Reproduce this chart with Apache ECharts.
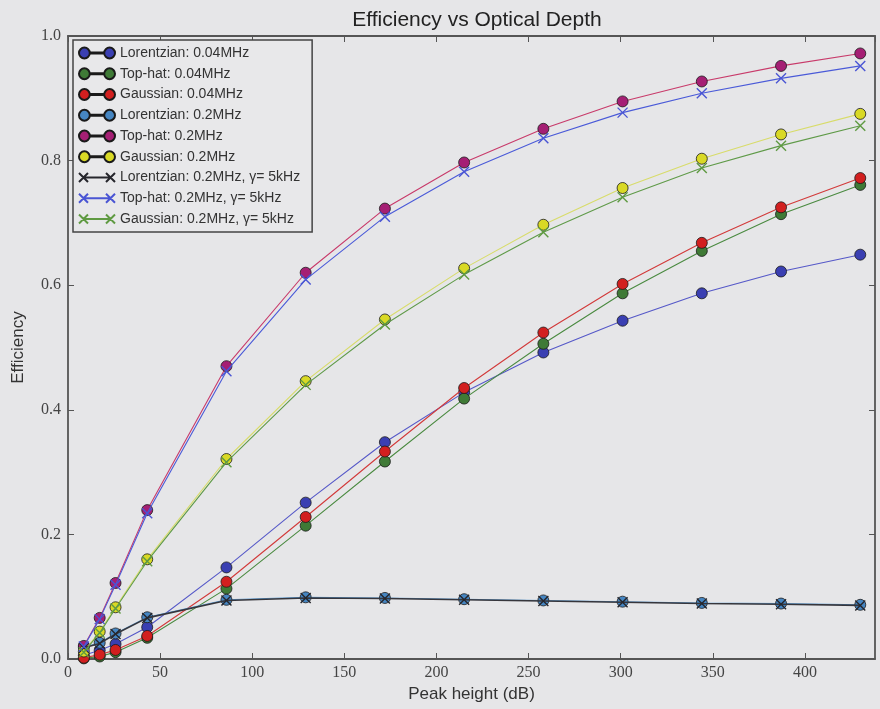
<!DOCTYPE html>
<html>
<head>
<meta charset="utf-8">
<script src="https://cdn.jsdelivr.net/npm/echarts@6/dist/echarts.min.js"></script>
<style>
  html, body { margin: 0; padding: 0; background: #e6e6e8; }
  #chart { width: 880px; height: 709px; }
</style>
</head>
<body>
<div id="chart"></div>
<script>
// Peak heights (dB) at which efficiency was computed
const peakHeights = [8.6, 17.2, 25.8, 43, 86, 129, 172, 215, 258, 301, 344, 387, 430];

// Efficiency for each lineshape / width
const lorentzian004 = [0.006, 0.014, 0.024, 0.051, 0.147, 0.251, 0.348, 0.428, 0.492, 0.543, 0.587, 0.622, 0.649];
const tophat004     = [0.001, 0.004, 0.011, 0.034, 0.113, 0.214, 0.317, 0.418, 0.506, 0.587, 0.655, 0.714, 0.761];
const gaussian004   = [0.002, 0.007, 0.0145, 0.037, 0.124, 0.228, 0.333, 0.435, 0.524, 0.602, 0.668, 0.725, 0.772];
const lorentzian02  = [0.019, 0.026, 0.041, 0.067, 0.095, 0.099, 0.098, 0.096, 0.094, 0.092, 0.090, 0.089, 0.087];
const tophat02      = [0.021, 0.066, 0.122, 0.239, 0.470, 0.620, 0.723, 0.797, 0.851, 0.895, 0.927, 0.952, 0.972];
const gaussian02    = [0.012, 0.044, 0.083, 0.160, 0.321, 0.446, 0.545, 0.627, 0.697, 0.756, 0.803, 0.842, 0.875];
const lorentzianG   = [0.018, 0.025, 0.040, 0.066, 0.094, 0.098, 0.097, 0.095, 0.093, 0.091, 0.089, 0.088, 0.086];
const tophatG       = [0.020, 0.064, 0.119, 0.234, 0.462, 0.609, 0.710, 0.782, 0.836, 0.877, 0.908, 0.932, 0.952];
const gaussianG     = [0.011, 0.042, 0.081, 0.157, 0.316, 0.440, 0.537, 0.617, 0.685, 0.741, 0.788, 0.824, 0.856];

const seriesNames = [
  'Lorentzian: 0.04MHz', 'Top-hat: 0.04MHz', 'Gaussian: 0.04MHz',
  'Lorentzian: 0.2MHz', 'Top-hat: 0.2MHz', 'Gaussian: 0.2MHz',
  'Lorentzian: 0.2MHz, γ= 5kHz', 'Top-hat: 0.2MHz, γ= 5kHz', 'Gaussian: 0.2MHz, γ= 5kHz'
];
const seriesValues = [lorentzian004, tophat004, gaussian004, lorentzian02, tophat02, gaussian02,
                      lorentzianG, tophatG, gaussianG];
const markerColors = ['#3a3fb2', '#3f7a36', '#d21f1f', '#4686c2', '#a51f74', '#d9d925',
                      '#26262c', '#4a55d4', '#5f9a42'];
const lineColors   = ['#5558c8', '#4a8a40', '#d23a3a', '#5a9ad2', '#c83a6a', '#d8dc6a',
                      '#36363c', '#4a5ad8', '#5f9a48'];
const markerKinds  = ['o', 'o', 'o', 'o', 'o', 'o', 'x', 'x', 'x'];
const xTicks = [0, 50, 100, 150, 200, 250, 300, 350, 400];

const CIRCLE_PAIR = 'path://M0,6a6,6 0 1,0 12,0a6,6 0 1,0 -12,0Z M28,6a6,6 0 1,0 12,0a6,6 0 1,0 -12,0Z M12,5.5h16v1h-16Z';
const CROSS_PAIR = 'path://M0,1L10,11M10,1L0,11M5,6L35,6M30,1L40,11M40,1L30,11';
const CROSS = 'path://M0,0L10,10M10,0L0,10';

// Frame: every axis line drawn at its own grid edge
const frame = { show: true, onZero: false, lineStyle: { color: '#555', width: 1.8 } };
const innerTicks = { show: true, inside: true, length: 6, lineStyle: { color: '#555', width: 1 } };
const serif = 'Liberation Serif, DejaVu Serif, serif';
const sans = 'Liberation Sans, Arial, sans-serif';

const series = seriesNames.map((name, i) => {
  const isCross = markerKinds[i] === 'x';
  return {
    name: name,
    type: 'line',
    data: peakHeights.map((x, j) => [x, seriesValues[i][j]]),
    symbol: isCross ? CROSS : 'circle',
    symbolSize: isCross ? 10 : 11,
    lineStyle: { color: lineColors[i], width: i === 6 ? 1.6 : 1.1 },
    itemStyle: isCross
      ? { color: markerColors[i], borderColor: markerColors[i], borderWidth: 1.4 }
      : { color: markerColors[i], borderColor: '#1a1a1a', borderWidth: 0.8 },
    emphasis: { disabled: true },
    z: 2 + i,
    animation: false
  };
});

const chart = echarts.init(document.getElementById('chart'), null, { renderer: 'canvas' });
chart.setOption({
  backgroundColor: '#e6e6e8',
  animation: false,
  title: {
    text: 'Efficiency vs Optical Depth',
    left: 472, top: 5, textAlign: 'center',
    textStyle: { fontFamily: sans, fontSize: 21, fontWeight: 'normal', color: '#222' }
  },
  grid: { left: 68, right: 5, top: 36, bottom: 50 },
  legend: {
    orient: 'vertical',
    left: 73, top: 40,
    padding: [6, 12, 6, 5],
    itemWidth: 36, itemHeight: 12, itemGap: 6.75,
    selectedMode: false,
    backgroundColor: '#e8e8ea',
    borderColor: '#444', borderWidth: 1.5,
    textStyle: { fontFamily: sans, fontSize: 14, color: '#333', lineHeight: 14 },
    data: seriesNames.map((n, i) => ({ name: n, icon: markerKinds[i] === 'x' ? CROSS_PAIR : CIRCLE_PAIR }))
  },
  xAxis: [{
    type: 'value', min: 0, max: 438, interval: 50,
    name: 'Peak height (dB)', nameLocation: 'middle', nameGap: 27,
    nameTextStyle: { fontFamily: sans, fontSize: 17, color: '#333' },
    axisLine: frame, splitLine: { show: false }, axisTick: innerTicks,
    axisLabel: {
      fontFamily: serif, fontSize: 16, color: '#444', margin: 6, showMaxLabel: false,
      formatter: v => xTicks.includes(v) ? String(v) : ''
    }
  }, {
    type: 'value', min: 0, max: 438, interval: 50, position: 'top',
    axisLine: frame, splitLine: { show: false }, axisTick: innerTicks,
    axisLabel: { show: false }
  }],
  yAxis: [{
    type: 'value', min: 0, max: 1, interval: 0.2,
    name: 'Efficiency', nameLocation: 'middle', nameGap: 41,
    nameTextStyle: { fontFamily: sans, fontSize: 17, color: '#333' },
    axisLine: frame, splitLine: { show: false }, axisTick: innerTicks,
    axisLabel: { fontFamily: serif, fontSize: 16, color: '#444', margin: 7, formatter: v => v.toFixed(1) }
  }, {
    type: 'value', min: 0, max: 1, interval: 0.2, position: 'right',
    axisLine: frame, splitLine: { show: false }, axisTick: innerTicks,
    axisLabel: { show: false }
  }],
  series: series
});
</script>
</body>
</html>
